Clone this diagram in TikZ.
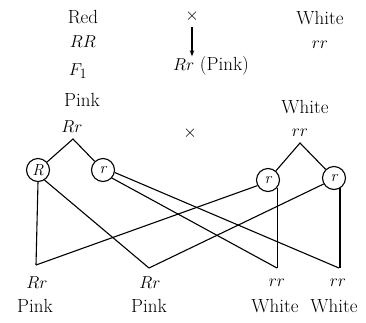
\documentclass[tikz,border=0pt]{standalone}
\usetikzlibrary{arrows.meta}
\begin{document}
\begin{tikzpicture}[x=1pt,y=-1pt,
  lbl/.style={inner sep=0pt,font=\fontsize{19}{22}\selectfont},
  gam/.style={draw,circle,inner sep=0pt,minimum size=23pt,line width=1.1pt,font=\fontsize{16}{18}\selectfont\itshape},
  ln/.style={line width=1.1pt}]
\useasboundingbox (0,0) rectangle (366,322);
% parents
\node[lbl] (red) at (83,17) {Red};
\node[lbl] (RR) at (83,42) {$RR$};
\node[lbl] (cross1) at (192,16) {$\times$};
\node[lbl] (white1) at (320,18) {White};
\node[lbl] (rr1) at (320,45) {$rr$};
\node[lbl] (F1) at (78,71) {$F_1$};
\node[lbl] (f1res) at (211,66) {$Rr$ (Pink)};
\draw[ln,-{Stealth[length=6pt,width=4.5pt]}] (cross1) ++(0,11) coordinate (a0) -- (f1res.north -| a0);
\node[lbl] (pink1) at (82,100) {Pink};
\node[lbl] (Rr1) at (72,127) {$Rr$};
\node[lbl] (cross2) at (190,133) {$\times$};
\node[lbl] (white2) at (305,107) {White};
\node[lbl] (rr2) at (300,133) {$rr$};
% gametes
\coordinate (j1) at (73,139);
\coordinate (j2) at (300,143);
\node[gam] (gR) at (38,170) {R};
\node[gam] (gr) at (103,170) {r};
\node[gam] (gr1) at (268,180) {r};
\node[gam] (gr2) at (334,178) {r};
\draw[ln] (gR) -- (j1) -- (gr);
\draw[ln] (gr1) -- (j2) -- (gr2);
% offspring points
\coordinate (b1) at (36,265);
\coordinate (b2) at (149,268);
\draw[ln] (gR.south) -- (b1);
\draw[ln] (gR.-57) -- (b2);
\draw[ln] (gr1.-152) -- (b1);
\draw[ln] (gr2.-150) -- (b2);
\draw[ln] (gr.-12) -- (339,268) coordinate (b4);
\draw[ln] (gr.-42) -- (277,268) coordinate (b3);
\draw[ln] (gr1.-40) -- (gr1.-40 |- b3);
\draw[ln] (gr2.-60) -- (gr2.-60 |- b4);
% offspring labels
\node[lbl] (o1) at (37,283) {$Rr$};
\node[lbl] (p1) at (35,306) {Pink};
\node[lbl] (o2) at (150,283) {$Rr$};
\node[lbl] (p2) at (149,306) {Pink};
\node[lbl] (o3) at (277,283) {$rr$};
\node[lbl] (w3) at (275,306) {White};
\node[lbl] (o4) at (338,283) {$rr$};
\node[lbl] (w4) at (334,306) {White};
\end{tikzpicture}
\end{document}
